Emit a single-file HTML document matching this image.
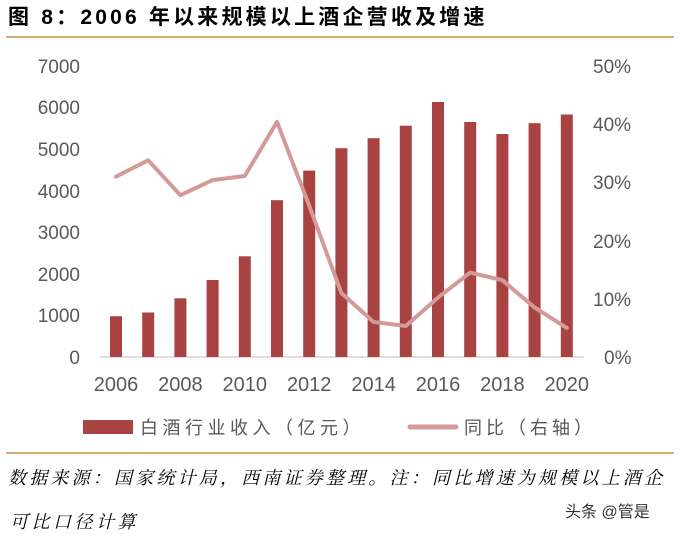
<!DOCTYPE html>
<html><head><meta charset="utf-8"><style>
body{margin:0;background:#fff;width:680px;height:536px;overflow:hidden}
svg{display:block}
</style></head><body>
<svg width="680" height="536" xmlns="http://www.w3.org/2000/svg" font-family="Liberation Sans, Noto Sans CJK SC, sans-serif">
<text x="8" y="24" font-size="21" font-weight="bold" fill="#000" letter-spacing="3.2">图 8：2006 年以来规模以上酒企营收及增速</text>
<line x1="6" y1="37" x2="674" y2="37" stroke="#c8963e" stroke-width="1.5"/>
<g font-size="19" fill="#595959" text-anchor="end">
<text x="80" y="364">0</text><text x="80" y="322">1000</text><text x="80" y="281">2000</text><text x="80" y="239">3000</text><text x="80" y="198">4000</text><text x="80" y="156">5000</text><text x="80" y="114">6000</text><text x="80" y="73">7000</text>
</g>
<g font-size="19" fill="#595959">
<text x="604" y="364">0%</text><text x="593" y="306">10%</text><text x="593" y="248">20%</text><text x="593" y="189">30%</text><text x="593" y="131">40%</text><text x="593" y="73">50%</text>
</g>
<line x1="100" y1="357" x2="584" y2="357" stroke="#bfbfbf" stroke-width="1"/>
<g fill="#a84341">
<rect x="110" y="316.2" width="12" height="40.8"/>
<rect x="142.2" y="312.5" width="12" height="44.5"/>
<rect x="174.4" y="298.3" width="12" height="58.7"/>
<rect x="206.6" y="280" width="12" height="77"/>
<rect x="238.8" y="256.3" width="12" height="100.7"/>
<rect x="271" y="200.2" width="12" height="156.8"/>
<rect x="303.2" y="170.6" width="12" height="186.4"/>
<rect x="335.4" y="148.2" width="12" height="208.8"/>
<rect x="367.6" y="138.2" width="12" height="218.8"/>
<rect x="399.8" y="125.7" width="12" height="231.3"/>
<rect x="432" y="102" width="12" height="255"/>
<rect x="464.2" y="122" width="12" height="235"/>
<rect x="496.4" y="134" width="12" height="223"/>
<rect x="528.6" y="123.2" width="12" height="233.8"/>
<rect x="560.8" y="114.5" width="12" height="242.5"/>
</g>
<polyline fill="none" stroke="#d49a9a" stroke-width="4" stroke-linejoin="round" stroke-linecap="round"
points="116,176.6 148.2,160.3 180.4,195.2 212.6,180.1 244.8,176 277,121.9 309.2,205.7 341.4,293 373.6,322 405.8,326 438,297.6 470.2,272.6 502.4,280.2 534.6,307.5 566.8,327.9"/>
<g font-size="20" fill="#595959" text-anchor="middle">
<text x="116" y="391">2006</text><text x="180.4" y="391">2008</text><text x="244.8" y="391">2010</text><text x="309.2" y="391">2012</text><text x="373.6" y="391">2014</text><text x="438" y="391">2016</text><text x="502.4" y="391">2018</text><text x="566.8" y="391">2020</text>
</g>
<rect x="83" y="420" width="50" height="14" fill="#a84341"/>
<text x="140" y="434" font-size="18" fill="#595959" letter-spacing="4.5">白酒行业收入（亿元）</text>
<line x1="410" y1="427" x2="456" y2="427" stroke="#d49a9a" stroke-width="5" stroke-linecap="round"/>
<text x="464" y="434" font-size="18" fill="#595959" letter-spacing="4">同比（右轴）</text>
<line x1="6" y1="453" x2="674" y2="453" stroke="#c8963e" stroke-width="1.5"/>
<text x="8" y="484" font-size="18" font-style="italic" fill="#000" letter-spacing="3.2" font-family="Liberation Serif, Noto Serif CJK SC, serif">数据来源：国家统计局，西南证券整理。注：同比增速为规模以上酒企</text>
<text x="10" y="528" font-size="18" font-style="italic" fill="#000" letter-spacing="3.5" font-family="Liberation Serif, Noto Serif CJK SC, serif">可比口径计算</text>
<text x="565" y="517" font-size="16" fill="#333">头条 @管是</text>
</svg>
</body></html>
